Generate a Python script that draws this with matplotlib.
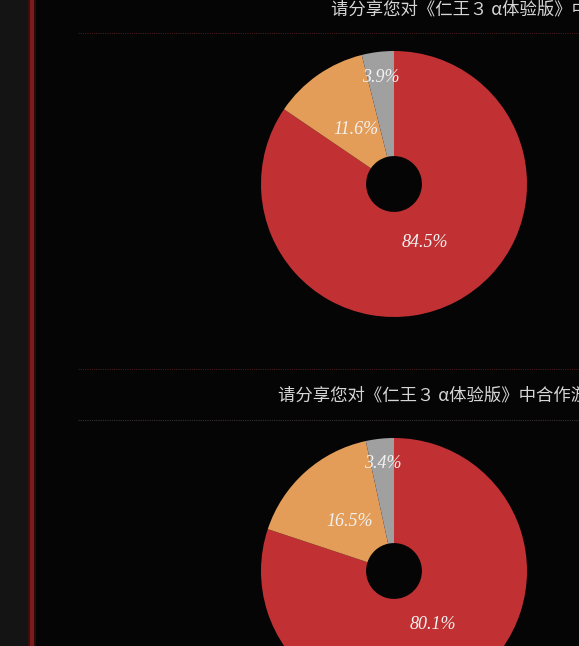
import matplotlib
matplotlib.use("Agg")
import matplotlib.pyplot as plt
from matplotlib.patches import Rectangle
import numpy as np

W, H = 579, 646

categories = ["满意", "一般", "不满意"]
values_1 = [84.5, 11.6, 3.9]
values_2 = [80.1, 16.5, 3.4]
title_1 = "请分享您对《仁王３ α体验版》中"
title_2 = "请分享您对《仁王３ α体验版》中合作游戏"
colors = ["#c13133", "#e39d58", "#a0a0a0"]
label_r = [0.5, 0.5, 0.81]

fig = plt.figure(figsize=(W / 100, H / 100), dpi=100)
fig.patch.set_facecolor("#050505")

# background decorations (pixel coords -> figure fraction)
bg = fig.add_axes([0, 0, 1, 1])
bg.set_xlim(0, W)
bg.set_ylim(H, 0)
bg.axis("off")
bg.add_patch(Rectangle((0, 0), 28, H, color="#141414", lw=0))
bg.add_patch(Rectangle((28, 0), 2, H, color="#3a1010", lw=0))
bg.add_patch(Rectangle((30, 0), 4, H, color="#7a1c1c", lw=0))
bg.add_patch(Rectangle((34, 0), 1.5, H, color="#2a0a0a", lw=0))
for y, c in [(33, "#4a1a1a"), (369, "#4a1a1a"), (420, "#3a3030")]:
    bg.plot([78, W], [y, y], color=c, lw=0.8, ls=(0, (1, 1)))

cjk = ["Noto Sans CJK SC", "DejaVu Sans"]
bg.text(331, 9, title_1, family=cjk, fontsize=12.5, color="#d6d6d6",
        va="center", ha="left", clip_on=False)
bg.text(278, 396, title_2, family=cjk, fontsize=12.5, color="#d6d6d6",
        va="center", ha="left", clip_on=False)


def donut(cx, cy, r, vals):
    ax = fig.add_axes([(cx - r) / W, 1 - (cy + r) / H, 2 * r / W, 2 * r / H])
    ax.set_aspect("equal")
    ax.axis("off")
    wedges, _ = ax.pie(vals, colors=colors, startangle=90, counterclock=False,
                       radius=1, wedgeprops=dict(width=0.79, linewidth=0))
    ax.set_xlim(-1, 1)
    ax.set_ylim(-1, 1)
    for w, v, lr in zip(wedges, vals, label_r):
        mid = np.deg2rad((w.theta1 + w.theta2) / 2)
        ax.text(lr * np.cos(mid), lr * np.sin(mid), f"{v}%",
                family="Liberation Serif", style="italic", fontsize=13,
                color="#f2f2f2", ha="center", va="center")


donut(394, 184, 133, values_1)
donut(394, 571, 133, values_2)

fig.savefig("out.png", dpi=100, facecolor=fig.get_facecolor())
